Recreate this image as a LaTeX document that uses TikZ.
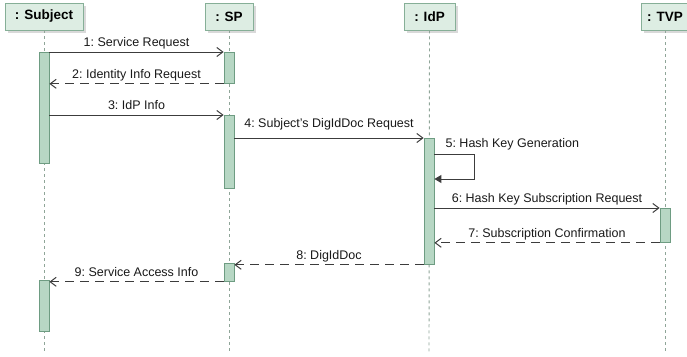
\documentclass[tikz,border=0pt]{standalone}
\usepackage{fontspec}
\setmainfont{Liberation Sans}
\usetikzlibrary{arrows.meta,shadows}
\definecolor{headf}{HTML}{DDEDE3}
\definecolor{headb}{HTML}{86AF97}
\definecolor{actf}{HTML}{B7D7C4}
\definecolor{actb}{HTML}{6E9C82}
\definecolor{lifec}{HTML}{8FA598}
\definecolor{msgc}{HTML}{3C3C3C}
\tikzset{
  head/.style={draw=headb, fill=headf, line width=0.8pt, minimum height=27pt, inner sep=0pt,
    font=\fontsize{13.5}{15}\selectfont\bfseries,
    drop shadow={shadow xshift=2.5pt, shadow yshift=-2.5pt, fill=black!25, opacity=0.6}},
  act/.style={draw=actb, fill=actf, line width=0.8pt, minimum width=10pt, inner sep=0pt, anchor=north},
  life/.style={draw=lifec, line width=0.9pt, dash pattern=on 3pt off 3pt},
  msg/.style={draw=msgc, line width=1pt, -{Straight Barb[length=6pt,width=9pt]}},
  ret/.style={msg, dash pattern=on 9pt off 6pt},
  selfmsg/.style={draw=msgc, line width=1pt, -{Triangle[length=7pt,width=8pt]}},
  lbl/.style={inner sep=0pt, text height=9pt, text depth=3pt, font=\fontsize{12.5}{14}\selectfont, text=black!90}
}
\begin{document}
\begin{tikzpicture}[x=1pt,y=-1pt]
\useasboundingbox (0,0) rectangle (687,356);
\clip (0,0) rectangle (687,356);
% lifeline heads
\node[head, minimum width=78pt] (hs) at (44,16.5) {: Subject};
\node[head, minimum width=48pt] (hp) at (229,16.5) {: SP};
\node[head, minimum width=51pt] (hi) at (429.5,16.5) {: IdP};
\node[head, minimum width=48pt] (ht) at (665,16.5) {: TVP};
% lifelines
\coordinate (es) at (44,352);
\coordinate (ep) at (229,352);
\coordinate (ei) at (429,352);
\coordinate (et) at (665,352);
\draw[life] (hs.south) -- (es);
\draw[life] (hp.south) -- (ep);
\draw[life] (hi.south) -- (ei);
\draw[life] (ht.south) -- (et);
% activations
\node[act, minimum height=111pt] (s1) at (44,52) {};
\node[act, minimum height=51pt] (s2) at (44,280) {};
\node[act, minimum height=31pt] (p1) at (229,52) {};
\node[act, minimum height=73pt] (p2) at (229,115) {};
\node[act, minimum height=18pt] (p3) at (229,263) {};
\node[act, minimum height=126pt] (i1) at (429,138) {};
\node[act, minimum height=34pt] (t1) at (665,208) {};
% messages
\draw[msg] (s1.north east) -- node[lbl, above=2pt] (l1) {1:\ Service Request} (p1.north west);
\draw[ret] (p1.south west) -- node[lbl, above=2pt] (l2) {2:\ Identity Info Request} (s1.east |- p1.south);
\draw[msg] (s1.east |- p2.north) -- node[lbl, above=2pt] (l3) {3:\ IdP Info} (p2.north west);
\draw[msg] (p2.east |- i1.north) -- node[lbl, above=7pt] (l4) {4:\ Subject's DigIdDoc Request} (i1.north west);
\coordinate (m5a) at ([yshift=-16pt]i1.north east);
\coordinate (m5b) at ([yshift=-41pt]i1.north east);
\draw[selfmsg] (m5a) -- ++(40,0) -- ++(0,25) -- (m5b);
\node[lbl, anchor=south west] (l5) at ([shift={(11pt,3pt)}]m5a) {5:\ Hash Key Generation};
\draw[msg] (i1.east |- t1.north) -- node[lbl, above=2pt] (l6) {6:\ Hash Key Subscription Request} (t1.north west);
\draw[ret] (t1.south west) -- node[lbl, above=2pt] (l7) {7:\ Subscription Confirmation} (i1.east |- t1.south);
\draw[ret] (i1.south west) -- node[lbl, above=2pt] (l8) {8:\ DigIdDoc} (p3.east |- i1.south);
\draw[ret] (p3.south west) -- node[lbl, above=2pt] (l9) {9:\ Service Access Info} (s2.east |- p3.south);
\end{tikzpicture}
\end{document}
